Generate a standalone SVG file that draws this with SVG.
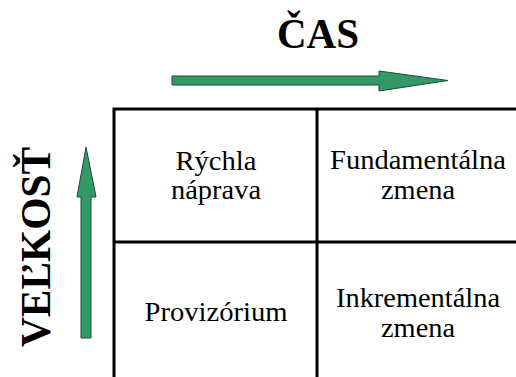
<svg xmlns="http://www.w3.org/2000/svg" width="516" height="377" viewBox="0 0 516 377">
<style>
text{font-family:'Liberation Serif','Times New Roman',Tinos,'DejaVu Serif',serif;fill:#000;text-anchor:middle}
.t{font-size:28px}
.h{font-size:42px;font-weight:bold}
.g{stroke:#000;stroke-width:3;fill:none}
.a{fill:#339966;stroke:#1a4d33;stroke-width:1}
</style>
<rect width="516" height="377" fill="#fff"/>
<g id="title-cas"><text class="h" x="318" y="48" textLength="82" lengthAdjust="spacingAndGlyphs">ČAS</text></g>
<g id="title-velkost"><text class="h" transform="translate(50,247) rotate(-90)" textLength="200" lengthAdjust="spacingAndGlyphs">VEĽKOSŤ</text></g>
<g id="connectors">
<polygon class="a" points="172,76 379,76 379,71 448,80.5 379,91 379,85 172,85"/>
<polygon class="a" points="81,338 81,197 77,197 86,147 96,197 91,197 91,338"/>
</g>
<g id="grid">
<path class="g" d="M114,377 V109 H516 M317,109 V377 M114,242 H516"/>
</g>
<g id="cell-rychla"><text class="t" x="216" y="170" textLength="81" lengthAdjust="spacingAndGlyphs">Rýchla</text><text class="t" x="216" y="199" textLength="90" lengthAdjust="spacingAndGlyphs">náprava</text></g>
<g id="cell-fundamentalna"><text class="t" x="418" y="169" textLength="176" lengthAdjust="spacingAndGlyphs">Fundamentálna</text><text class="t" x="418" y="199" textLength="74" lengthAdjust="spacingAndGlyphs">zmena</text></g>
<g id="cell-provizorium"><text class="t" x="216" y="321" textLength="143" lengthAdjust="spacingAndGlyphs">Provizórium</text></g>
<g id="cell-inkrementalna"><text class="t" x="418" y="307" textLength="164" lengthAdjust="spacingAndGlyphs">Inkrementálna</text><text class="t" x="418" y="337" textLength="74" lengthAdjust="spacingAndGlyphs">zmena</text></g>
</svg>
